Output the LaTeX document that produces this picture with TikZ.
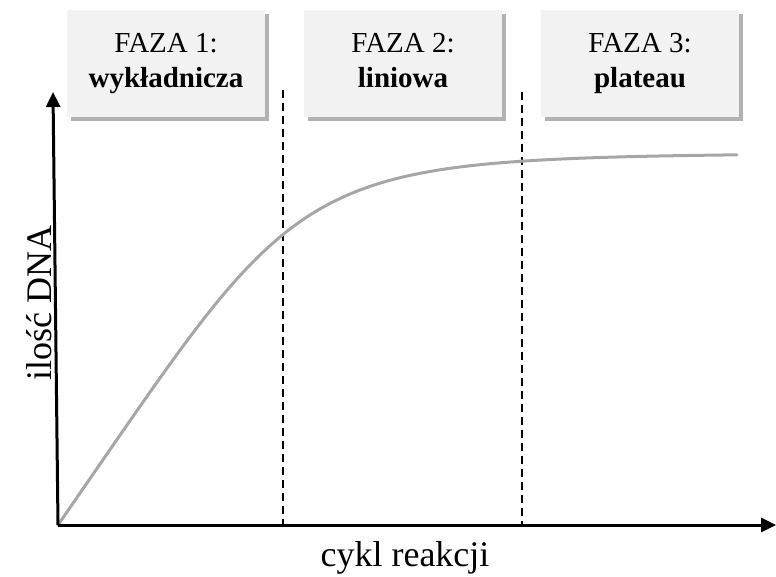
\documentclass[tikz,border=0pt]{standalone}
\usepackage{fontspec}
\setmainfont{Liberation Serif}
\usepackage{xcolor}
\usepackage{tikz}
\usetikzlibrary{arrows.meta,shadows,calc}
\definecolor{boxgray}{HTML}{F2F2F2}
\definecolor{curvegray}{HTML}{A6A6A6}

\begin{document}
\begin{tikzpicture}[x=1pt, y=-1pt,
    faza/.style={fill=boxgray, minimum width=198pt, minimum height=107pt,
      inner sep=0pt, align=center, font=\fontsize{29}{35}\selectfont,
      drop shadow={shadow xshift=4pt, shadow yshift=-4pt, fill=black, opacity=0.3}},
    axis/.style={line width=3pt, -{Triangle[length=15pt,width=14pt]}},
    border/.style={line width=2.8pt, dash pattern=on 8pt off 5pt},
    axislabel/.style={font=\fontsize{36}{40}\selectfont, inner sep=0pt}]
  \useasboundingbox (0,0) rectangle (776,576);
  % Define coordinates
  \def\Slope{1.45}
  \def\Top{372}
  \path
    (58,525) coordinate (O)
    (776,525) coordinate (X)
    (53,92) coordinate (Y)
    (283,90) coordinate (A)
    (283,525) coordinate (A')
    (522,92) coordinate (B)
    (522,525) coordinate (B')
  ;
  % Phase boxes
  \node[faza] (F1) at (166,63) {\strut FAZA 1:\\\strut\textbf{wykładnicza}};
  \node[faza] (F2) at (403,63) {\strut FAZA 2:\\\strut\textbf{liniowa}};
  \node[faza] (F3) at (640,63) {\strut FAZA 3:\\\strut\textbf{plateau}};
  % Phase borders
  \draw[border] (A) -- (A');
  \draw[border] (B) -- (B');
  % Growth curve
  \draw[curvegray, line width=3pt, line cap=round]
    plot[domain=0:679, samples=140, smooth]
    ({58+\x}, {525 - \Slope*\x/((1+(\Slope*\x/\Top)^4)^0.25)});
  % Axes
  \draw[axis] (O) -- (X);
  \draw[axis] (O) -- (Y);
  \node[axislabel, anchor=base] (xlab) at (405,566) {cykl reakcji};
  \node[axislabel, anchor=base, rotate=90] (ylab) at (51,303) {ilość DNA};
\end{tikzpicture}
\end{document}
